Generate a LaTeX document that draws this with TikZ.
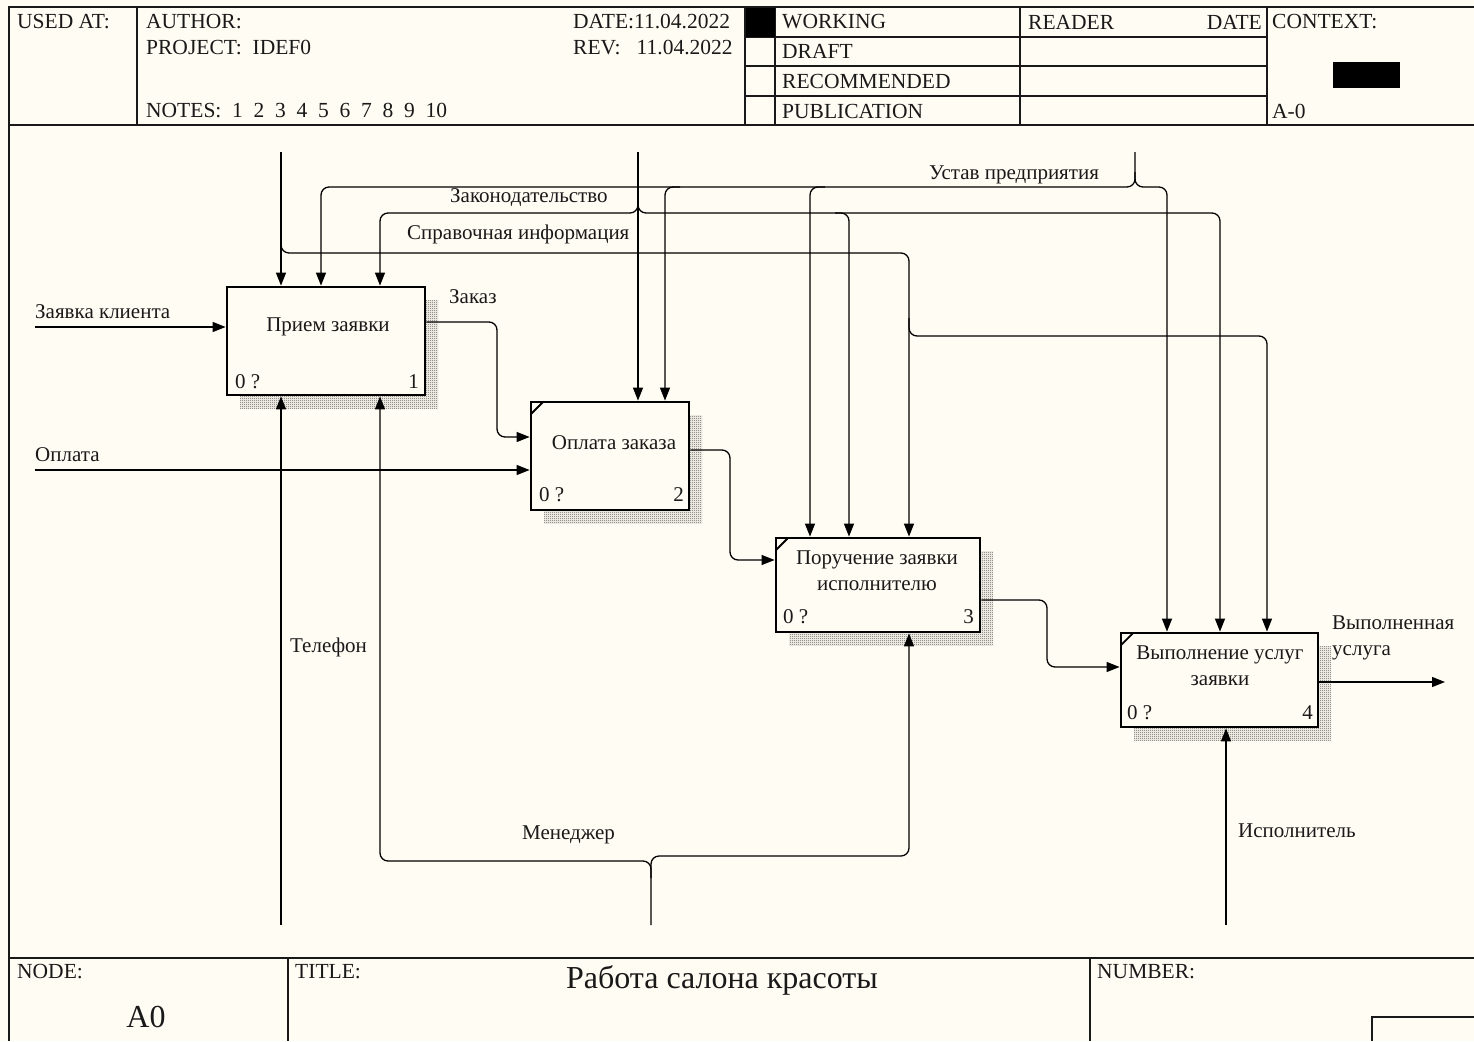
\documentclass[tikz,border=0pt]{standalone}
\usepackage{fontspec}
\setmainfont{Liberation Serif}
\usetikzlibrary{arrows.meta,patterns.meta,shadows}
\definecolor{bg}{RGB}{255,252,243}
\definecolor{ink}{RGB}{25,25,25}
\tikzdeclarepattern{
  name=finecheck, type=uncolored,
  bounding box={(0,0) and (2pt,2pt)},
  tile size={(2pt,2pt)},
  code={
    \pgfpathrectangle{\pgfpointorigin}{\pgfpoint{1pt}{1pt}}
    \pgfpathrectangle{\pgfpoint{1pt}{1pt}}{\pgfpoint{1pt}{1pt}}
    \pgfusepath{fill}
  }
}
\begin{document}
\begin{tikzpicture}[x=1pt,y=-1pt,
  every node/.style={font=\fontsize{21}{26}\selectfont, inner sep=0pt, text=ink},
  hdr/.style={anchor=west, font=\fontsize{21.5}{26}\selectfont},
  bigtext/.style={font=\fontsize{32}{36}\selectfont},
  frame/.style={line width=1.3pt, draw=ink},
  box/.style={draw=black, line width=2.8pt, fill=bg, minimum width=#1},
  hatch/.style={general shadow={shadow xshift=13pt, shadow yshift=-13pt, pattern=finecheck, pattern color=black!65}},
  arr/.style={-{Triangle[length=13pt,width=10pt]}, line width=1.3pt, draw=black},
  rc/.style={rounded corners=8pt},
  lbl/.style={anchor=west},
  corner/.style={line width=1.8pt}
]
\useasboundingbox (0,0) rectangle (1474,1041);
\fill[bg] (0,0) rectangle (1474,1041);

% ---------- header frame ----------
\draw[frame] (9,1041) -- (9,7) -- (1474,7);
\draw[frame] (9,125) -- (1474,125);
\draw[frame] (137,7) -- (137,125);
\draw[frame] (745,7) -- (745,125);
\draw[frame] (775,7) -- (775,125);
\draw[frame] (1020,7) -- (1020,125);
\draw[frame] (1267,7) -- (1267,125);
\draw[frame] (745,37) -- (1267,37);
\draw[frame] (745,66) -- (1267,66);
\draw[frame] (745,96) -- (1267,96);
\fill[black] (746,8) rectangle (775,37);
\fill[black] (1333,62) rectangle (1400,88);

\node[hdr] (hUsed) at (17,22) {USED AT:};
\node[hdr] (hAuthor) at (146,22) {AUTHOR:};
\node[hdr] (hProject) at (146,48) {PROJECT:\ \ IDEF0};
\node[hdr] (hNotes) at (146,111) {NOTES:\ \ 1\ \ 2\ \ 3\ \ 4\ \ 5\ \ 6\ \ 7\ \ 8\ \ 9\ \ 10};
\node[hdr] (hDate) at (573,22) {DATE:11.04.2022};
\node[hdr] (hRev) at (573,48) {REV:\ \ \ 11.04.2022};
\node[hdr] (hWork) at (782,22) {WORKING};
\node[hdr] (hDraft) at (782,51) {DRAFT};
\node[hdr] (hRec) at (782,81) {RECOMMENDED};
\node[hdr] (hPub) at (782,111) {PUBLICATION};
\node[hdr] (hReader) at (1028,22) {READER};
\node[hdr, anchor=east] (hDate2) at (1262,22) {DATE};
\node[hdr] (hContext) at (1272,22) {CONTEXT:};
\node[hdr] (hA0) at (1272,111) {A-0};

% ---------- footer ----------
\draw[frame] (9,958) -- (1474,958);
\draw[frame] (288,958) -- (288,1041);
\draw[frame] (1090,958) -- (1090,1041);
\draw[frame] (1372,1041) -- (1372,1017) -- (1474,1017);
\node[hdr] (fNode) at (17,972) {NODE:};
\node[bigtext] (fA0) at (146,1017) {A0};
\node[hdr] (fTitle) at (295,972) {TITLE:};
\node[bigtext] (fTitleText) at (722,980) {Работа салона красоты};
\node[hdr] (fNumber) at (1097,972) {NUMBER:};

% ---------- activity boxes ----------
\node[box=198pt, minimum height=108pt, hatch] (b1) at (326,341) {};
\node[box=158pt, minimum height=108pt, hatch] (b2) at (610,456) {};
\node[box=204pt, minimum height=94pt, hatch] (b3) at (878,585) {};
\node[box=197pt, minimum height=94pt, hatch] (b4) at (1219.5,680) {};

\draw[corner] (531,414) -- (543,402);
\draw[corner] (776,550) -- (788,538);
\draw[corner] (1121,645) -- (1133,633);

\node (t1) at (328,327) {Прием заявки};
\node (t2) at (614,443) {Оплата заказа};
\node[align=center] (t3) at (877,571) {Поручение заявки\\исполнителю};
\node[align=center] (t4) at (1220,666) {Выполнение услуг\\заявки};

\node[anchor=base west] (n1a) at (235,388) {0 ?};
\node[anchor=base east] (n1b) at (419,388) {1};
\node[anchor=base west] (n2a) at (539,501) {0 ?};
\node[anchor=base east] (n2b) at (684,501) {2};
\node[anchor=base west] (n3a) at (783,623) {0 ?};
\node[anchor=base east] (n3b) at (974,623) {3};
\node[anchor=base west] (n4a) at (1127,719) {0 ?};
\node[anchor=base east] (n4b) at (1313,719) {4};

% ---------- sources ----------
\coordinate (sI1) at (35,327);
\coordinate (sI2) at (35,470);
\coordinate (sC1) at (281,152);
\coordinate (sC2) at (638,152);
\coordinate (sC3) at (1135,152);
\coordinate (sM1) at (281,925);
\coordinate (sM2) at (651,925);
\coordinate (sM3) at (1226,925);
\coordinate (eO) at (1445,682);

% inputs / outputs
\draw[arr] (sI1) -- (sI1 -| b1.west);
\draw[arr] (sI2) -- (sI2 -| b2.west);
\draw[arr, rc] (b1.east |- 0,322) -- (497,322) -- (497,437) -- (b2.west |- 0,437);
\draw[arr, rc] (b2.east |- 0,450) -- (730,450) -- (730,560) -- (b3.west |- 0,560);
\draw[arr, rc] (b3.east |- 0,600) -- (1047,600) -- (1047,667) -- (b4.west |- 0,667);
\draw[arr] (b4.east |- eO) -- (eO);

% controls
\draw[arr] (sC1) -- (sC1 |- b1.north);
\draw[arr, rc] (281,235) -- (281,253) -- (909,253) -- (909,0 |- b3.north);
\draw[arr, rc] (909,318) -- (909,336) -- (1267,336) -- (1267,0 |- b4.north);
\draw[arr] (sC2) -- (sC2 |- b2.north);
\draw[arr, rc] (638,198) -- (638,213) -- (380,213) -- (380,0 |- b1.north);
\draw[arr, rc] (638,198) -- (638,213) -- (849,213) -- (849,0 |- b3.north);
\draw[arr, rc] (835,213) -- (1220,213) -- (1220,0 |- b4.north);
\draw[arr, rc] (sC3) -- (1135,187) -- (321,187) -- (321,0 |- b1.north);
\draw[arr, rc] (1135,172) -- (1135,187) -- (1167,187) -- (1167,0 |- b4.north);
\draw[arr, rc] (680,187) -- (665,187) -- (665,0 |- b2.north);
\draw[arr, rc] (825,187) -- (810,187) -- (810,0 |- b3.north);

% mechanisms
\draw[arr] (sM1) -- (sM1 |- b1.south);
\draw[arr, rc] (sM2) -- (651,861) -- (380,861) -- (380,0 |- b1.south);
\draw[arr, rc] (651,878) -- (651,856) -- (909,856) -- (909,0 |- b3.south);
\draw[arr] (sM3) -- (sM3 |- b4.south);

% arrow labels
\node[lbl] (lZk) at (35,312) {Заявка клиента};
\node[lbl] (lOp) at (35,455) {Оплата};
\node[lbl] (lZz) at (449,297) {Заказ};
\node[lbl] (lLaw) at (450,198) {Законодательство};
\node[lbl] (lRef) at (407,234) {Справочная информация};
\node[lbl] (lUst) at (929,175) {Устав предприятия};
\node[lbl] (lTel) at (290,647) {Телефон};
\node[lbl] (lMen) at (522,835) {Менеджер};
\node[lbl] (lIsp) at (1238,831) {Исполнитель};
\node[lbl, align=left] (lOut) at (1332,638) {Выполненная\\услуга};
\end{tikzpicture}
\end{document}
